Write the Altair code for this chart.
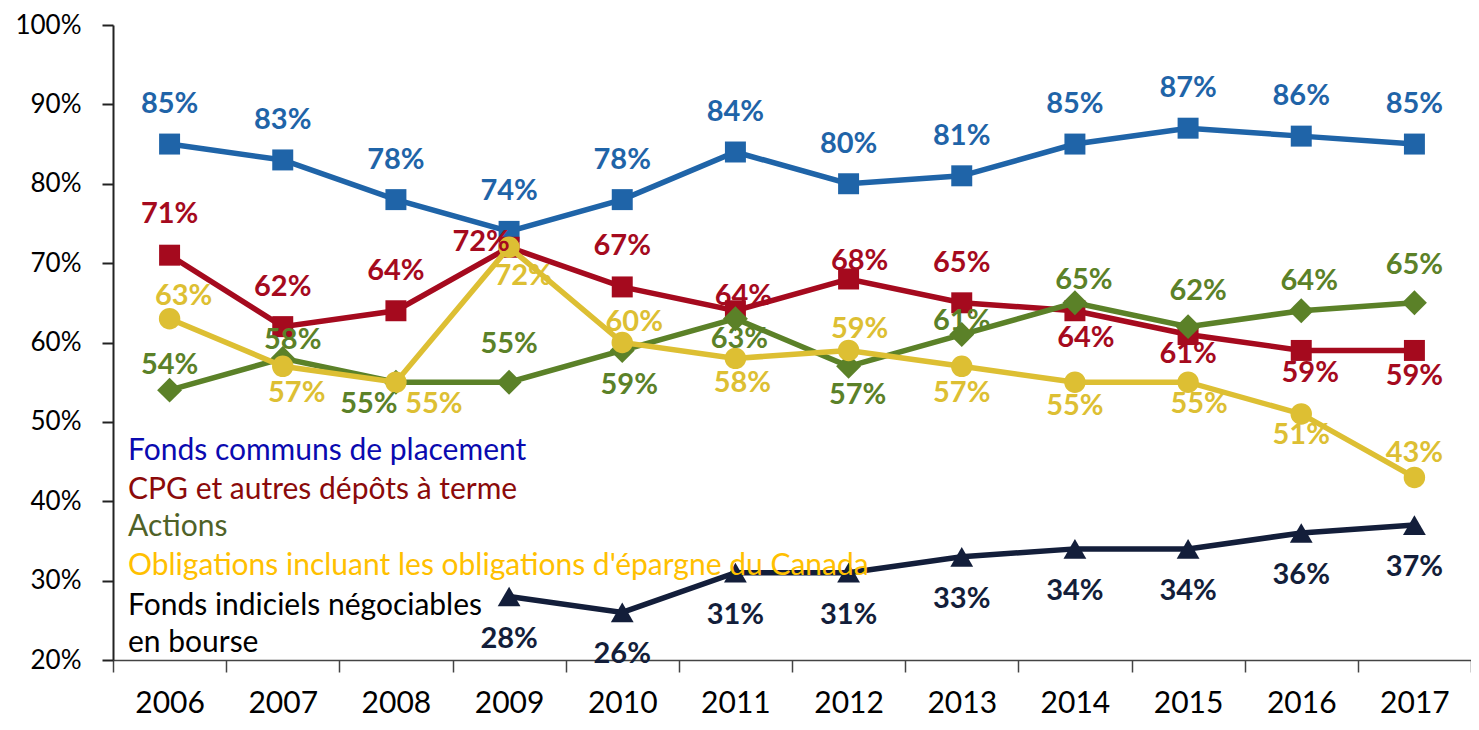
import altair as alt
import pandas as pd

years = [str(y) for y in range(2006, 2018)]

series_names = [
    "Fonds communs de placement",
    "CPG et autres dépôts à terme",
    "Actions",
    "Obligations incluant les obligations d'épargne du Canada",
    "Fonds indiciels négociables en bourse",
]
fonds_communs = [85, 83, 78, 74, 78, 84, 80, 81, 85, 87, 86, 85]
cpg = [71, 62, 64, 72, 67, 64, 68, 65, 64, 61, 59, 59]
actions = [54, 58, 55, 55, 59, 63, 57, 61, 65, 62, 64, 65]
obligations = [63, 57, 55, 72, 60, 58, 59, 57, 55, 55, 51, 43]
fnb = [None, None, None, 28, 26, 31, 31, 33, 34, 34, 36, 37]

line_colors = ["#1F64A8", "#A50A1E", "#5B8128", "#DDBF33", "#131E3A"]
legend_colors = ["#0A0AB0", "#8B0A0A", "#4F6228", "#FFC000", "#000000"]
shapes = ["square", "square", "diamond", "circle", "triangle-up"]
shape_sizes = [440, 440, 620, 460, 520]

# label placement offsets (pixels) for each value label
label_dx = [
    [0] * 12,
    [0, 0, 0, -28, 0, 8, 11, 0, 11, 0, 9, 0],
    [0, 10, -27, 0, 7, 4, 9, 0, 9, 10, 8, 0],
    [14, 14, 38, 14, 12, 7, 11, 0, 0, 11, 0, 0],
    [0] * 12,
]
label_dy = [
    [-40] * 12,
    [-41, -40, -40, -5, -41, -15, -18, -40, 27, 19, 23, 26],
    [-25, -18, 22, -38, 35, 20, 29, -14, -23, -36, -30, -38],
    [-23, 27, 22, 29, -21, 25, -21, 27, 24, 22, 21, -24],
    [42] * 12,
]

all_values = [fonds_communs, cpg, actions, obligations, fnb]
rows = []
for si, (name, vals) in enumerate(zip(series_names, all_values)):
    for yi, (yr, v) in enumerate(zip(years, vals)):
        if v is None:
            continue
        rows.append({
            "year": yr, "series": name, "order": si, "value": v / 100,
            "label": f"{v}%", "dx": label_dx[si][yi], "dy": label_dy[si][yi],
        })
df = pd.DataFrame(rows)

x_enc = alt.X(
    "year:O",
    scale=alt.Scale(type="band", paddingInner=0, paddingOuter=0),
    axis=alt.Axis(
        title=None, labelAngle=0, tickBand="extent", tickSize=12,
        labelFont="Lato", labelFontSize=30, labelColor="#000000",
        labelPadding=16, domainColor="#444444", tickColor="#444444",
        domainWidth=1.5, tickWidth=1.5,
    ),
)
y_enc = alt.Y(
    "value:Q",
    scale=alt.Scale(domain=[0.2, 1.0], nice=False, zero=False),
    axis=alt.Axis(
        title=None, values=[0.2, 0.3, 0.4, 0.5, 0.6, 0.7, 0.8, 0.9, 1.0],
        format=".0%", grid=False, tickSize=11, labelPadding=21,
        labelFont="Lato", labelFontSize=26, labelColor="#000000",
        domainColor="#222222", tickColor="#222222", domainWidth=2, tickWidth=2,
    ),
)
color_enc = alt.Color(
    "series:N", scale=alt.Scale(domain=series_names, range=line_colors), legend=None
)

series_layers = []
for si, name in enumerate(series_names):
    sub = df[df["series"] == name]
    c = alt.Chart(sub)
    series_layers.append(c.mark_line(strokeWidth=5.5, color=line_colors[si]).encode(x=x_enc, y=y_enc))
    series_layers.append(
        c.mark_point(filled=True, size=shape_sizes[si], opacity=1, shape=shapes[si],
                     color=line_colors[si]).encode(x=x_enc, y=y_enc)
    )

labels = alt.Chart(df).mark_text(
    font="Lato", fontSize=29, fontWeight="bold", baseline="middle", align="center",
    dx=alt.ExprRef("datum.dx"), dy=alt.ExprRef("datum.dy"),
).encode(x=x_enc, y=y_enc, text="label:N", color=color_enc)

legend_lines = [
    (series_names[0], 426),
    (series_names[1], 465),
    (series_names[2], 502),
    (series_names[3], 541),
    ("Fonds indiciels négociables\nen bourse", 581),
]
legend_layers = []
for i, (txt, ypos) in enumerate(legend_lines):
    legend_layers.append(
        alt.Chart(pd.DataFrame({"t": [txt]})).mark_text(
            font="Lato", fontSize=30, align="left", baseline="middle",
            color=legend_colors[i], lineBreak="\n", lineHeight=37,
        ).encode(x=alt.value(15), y=alt.value(ypos), text="t:N")
    )

chart = alt.layer(*series_layers, labels, *legend_layers).properties(
    width=1358,
    height=635,
    autosize=alt.AutoSizeParams(type="none"),
    padding={"left": 105, "top": 17, "right": 0, "bottom": 59},
).configure_view(stroke=None)

chart.save("out.html", embed_options={"renderer": "svg", "actions": False})
